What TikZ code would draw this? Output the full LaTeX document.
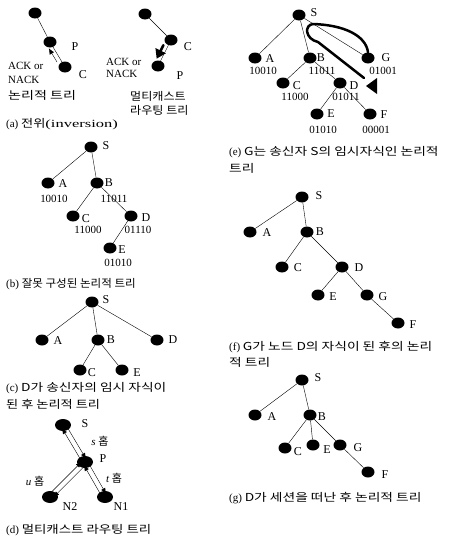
\documentclass[tikz,border=0pt]{standalone}
\usepackage{fontspec}
\setmainfont{Liberation Serif}
\newfontfamily\krfont{Noto Sans CJK KR}
\newcommand{\krw}[2]{\scalebox{#1}[1]{\krfont #2}}
\usetikzlibrary{shapes.geometric,arrows.meta,calc}
\begin{document}
\begin{tikzpicture}[x=1pt,y=-1pt,
  dot/.style={ellipse,fill=black,minimum width=13pt,minimum height=11pt,inner sep=0pt},
  bigdot/.style={dot,minimum width=16pt,minimum height=12pt},
  lbl/.style={font=\fontsize{12}{12}\selectfont,inner sep=0pt},
  addr/.style={font=\fontsize{11}{11}\selectfont,inner sep=0pt},
  capt/.style={anchor=west,font=\fontsize{11}{13}\selectfont,inner sep=0pt},
  hop/.style={-{Latex[length=6pt,width=4.5pt]},shorten >=2pt,shorten <=2pt},
  fat/.style={line width=2.5pt,line cap=round}]
\useasboundingbox (0,0) rectangle (462,542);
% (a) inversion
\node[dot] (aT) at (35,13) {};
\node[dot] (aP) at (50,42) {};
\node[dot] (aC) at (65,67) {};
\draw (aT) -- (aP) -- (aC);
\draw[-{Latex[length=6pt,width=5pt]}] ($(aC)!0.2!(aP)+(-5,0)$) -- ($(aC)!0.75!(aP)+(-5,0)$);
\node[lbl] (aPl) at (75,47) {P};
\node[lbl] (aCl) at (83,75) {C};
\node[addr,anchor=west] (aAck) at (8,66) {ACK or};
\node[addr,anchor=west] (aNack) at (8,80) {NACK};
\node[capt] (aTree) at (8,95) {\krw{1.28}{논리적 트리}};
\node[dot] (mT) at (145,14) {};
\node[dot] (mC) at (171,40) {};
\node[dot] (mP) at (158,66) {};
\draw (mT) -- (mC) -- (mP);
\draw[fat,-{Triangle[length=9pt,width=11pt]}] ($(mC)!0.2!(mP)+(-5,0)$) -- ($(mC)!0.72!(mP)+(-5,0)$);
\node[lbl] (mCl) at (188,47) {C};
\node[lbl] (mPl) at (180,76) {P};
\node[addr,anchor=west] (mAck) at (106,62) {ACK or};
\node[addr,anchor=west] (mNack) at (106,74) {NACK};
\node[capt] (mTree1) at (130,96) {\krw{1.1}{멀티캐스트}};
\node[capt] (mTree2) at (130,110) {\krw{1.1}{라우팅 트리}};
\node[capt] (capA) at (6,124) {(a) \krw{1.2}{전위}\scalebox{1.5}[1]{(inversion)}};
% (b) wrong tree
\node[dot] (bS) at (91,147) {};
\node[dot] (bA) at (48,183) {};
\node[dot] (bB) at (97,183) {};
\node[dot] (bC) at (73,216) {};
\node[dot] (bD) at (131,216) {};
\node[dot] (bE) at (110,248) {};
\draw (bS) -- (bA);
\draw (bS) -- (bB) -- (bC);
\draw (bB) -- (bD) -- (bE);
\node[lbl] (bSl) at (106,146) {S};
\node[lbl] (bAl) at (63,184) {A};
\node[lbl] (bBl) at (109,183) {B};
\node[lbl] (bCl) at (86,219) {C};
\node[lbl] (bDl) at (146,218) {D};
\node[lbl] (bEl) at (122,250) {E};
\node[addr] (bAn) at (54,199) {10010};
\node[addr] (bBn) at (114,199) {11011};
\node[addr] (bCn) at (88,230) {11000};
\node[addr] (bDn) at (138,230) {01110};
\node[addr] (bEn) at (118,263) {01010};
\node[capt] (capB) at (6,284) {(b) \krw{1.05}{잘못 구성된 논리적 트리}};
% (c) D under sender
\node[dot] (cS) at (92,302) {};
\node[dot] (cA) at (42,340) {};
\node[dot] (cB) at (98,340) {};
\node[dot] (cD) at (157,340) {};
\node[dot] (cC) at (80,370) {};
\node[dot] (cE) at (122,370) {};
\draw (cS) -- (cA);
\draw (cS) -- (cB);
\draw (cS) -- (cD);
\draw (cB) -- (cC);
\draw (cB) -- (cE);
\node[lbl] (cSl) at (106,300) {S};
\node[lbl] (cAl) at (58,341) {A};
\node[lbl] (cBl) at (111,340) {B};
\node[lbl] (cDl) at (173,340) {D};
\node[lbl] (cCl) at (92,373) {C};
\node[lbl] (cEl) at (137,373) {E};
\node[capt] (capC1) at (6,388) {(c) \krw{1.25}{D가 송신자의 임시 자식이}};
\node[capt] (capC2) at (6,404) {\krw{1.2}{된 후 논리적 트리}};
% (d) routing tree
\node[bigdot] (dS) at (63,425) {};
\node[bigdot] (dP) at (85,462) {};
\node[bigdot] (dN2) at (50,497) {};
\node[bigdot] (dN1) at (105,497) {};
\draw[hop] ($(dS)!2.5pt!90:(dP)$) -- ($(dP)!2.5pt!-90:(dS)$);
\draw[hop] ($(dP)!2.5pt!90:(dS)$) -- ($(dS)!2.5pt!-90:(dP)$);
\draw[hop] ($(dP)!2.5pt!90:(dN2)$) -- ($(dN2)!2.5pt!-90:(dP)$);
\draw[hop] ($(dN2)!2.5pt!90:(dP)$) -- ($(dP)!2.5pt!-90:(dN2)$);
\draw[hop] ($(dP)!2.5pt!90:(dN1)$) -- ($(dN1)!2.5pt!-90:(dP)$);
\draw[hop] ($(dN1)!2.5pt!90:(dP)$) -- ($(dP)!2.5pt!-90:(dN1)$);
\node[lbl] (dSl) at (85,424) {S};
\node[lbl] (dPl) at (103,459) {P};
\node[lbl] (dN2l) at (70,507) {N2};
\node[lbl] (dN1l) at (121,507) {N1};
\node[addr] (dSh) at (100,441) {\itshape s {\krfont\upshape 홉}};
\node[addr] (dUh) at (35,481) {\itshape u {\krfont\upshape 홉}};
\node[addr] (dTh) at (114,478) {\itshape t {\krfont\upshape 홉}};
\node[capt] (capD) at (6,530) {(d) \krw{1.22}{멀티캐스트 라우팅 트리}};
% (e) G as temporary child of S
\node[dot] (eS) at (299,15) {};
\node[dot] (eA) at (255,58) {};
\node[dot] (eB) at (310,58) {};
\node[dot] (eG) at (368,58) {};
\node[dot] (eC) at (283,83) {};
\node[dot] (eD) at (340,83) {};
\node[dot] (eE) at (317,114) {};
\node[dot] (eF) at (370,114) {};
\draw (eS) -- (eA);
\draw (eS) -- (eB);
\draw (eS) -- (eG);
\draw (eB) -- (eC);
\draw (eB) -- (eD);
\draw (eD) -- (eE);
\draw (eD) -- (eF);
\coordinate (eTip) at (364,78);
\draw[fat] (eG.north) .. controls (366,36) and (345,25) .. (313,24) .. controls (304,25) and (305,39) .. (318,42) -- (eTip);
\fill (366,86) -- (377,78) -- (377,94) -- cycle;
\node[lbl] (eSl) at (314,13) {S};
\node[lbl] (eAl) at (270,59) {A};
\node[lbl] (eBl) at (321,58) {B};
\node[lbl] (eGl) at (386,58) {G};
\node[lbl] (eCl) at (297,86) {C};
\node[lbl] (eDl) at (354,86) {D};
\node[addr] (eAn) at (263,71) {10010};
\node[addr] (eBn) at (322,71) {11011};
\node[addr] (eGn) at (383,71) {01001};
\node[addr] (eCn) at (295,97) {11000};
\node[addr] (eDn) at (346,97) {01011};
\node[lbl] (eEl) at (331,114) {E};
\node[lbl] (eFl) at (384,115) {F};
\node[addr] (eEn) at (323,130) {01010};
\node[addr] (eFn) at (376,130) {00001};
\node[capt] (capE1) at (229,152) {(e) \krw{1.25}{G는 송신자 S의 임시자식인 논리적}};
\node[capt] (capE2) at (229,168) {\krw{1.25}{트리}};
% (f) G as child of D
\node[dot] (fS) at (302,197) {};
\node[dot] (fA) at (250,232) {};
\node[dot] (fB) at (307,232) {};
\node[dot] (fC) at (282,267) {};
\node[dot] (fD) at (342,267) {};
\node[dot] (fE) at (318,295) {};
\node[dot] (fG) at (367,295) {};
\node[dot] (fF) at (398,323) {};
\draw (fS) -- (fA);
\draw (fS) -- (fB) -- (fC);
\draw (fB) -- (fD) -- (fE);
\draw (fD) -- (fG) -- (fF);
\node[lbl] (fSl) at (319,196) {S};
\node[lbl] (fAl) at (267,233) {A};
\node[lbl] (fBl) at (320,232) {B};
\node[lbl] (fCl) at (298,268) {C};
\node[lbl] (fDl) at (359,268) {D};
\node[lbl] (fEl) at (333,297) {E};
\node[lbl] (fGl) at (383,297) {G};
\node[lbl] (fFl) at (413,325) {F};
\node[capt] (capF1) at (229,347) {(f) \krw{1.25}{G가 노드 D의 자식이 된 후의 논리}};
\node[capt] (capF2) at (229,362) {\krw{1.25}{적 트리}};
% (g) D left the session
\node[dot] (gS) at (302,380) {};
\node[dot] (gA) at (255,415) {};
\node[dot] (gB) at (310,415) {};
\node[dot] (gC) at (285,448) {};
\node[dot] (gE) at (313,445) {};
\node[dot] (gG) at (340,445) {};
\node[dot] (gF) at (368,472) {};
\draw (gS) -- (gA);
\draw (gS) -- (gB);
\draw (gB) -- (gC);
\draw (gB) -- (gE);
\draw (gB) -- (gG) -- (gF);
\node[lbl] (gSl) at (318,378) {S};
\node[lbl] (gAl) at (272,417) {A};
\node[lbl] (gBl) at (322,417) {B};
\node[lbl] (gCl) at (298,452) {C};
\node[lbl] (gEl) at (327,450) {E};
\node[lbl] (gGl) at (358,448) {G};
\node[lbl] (gFl) at (385,475) {F};
\node[capt] (capG) at (229,498) {(g) \krw{1.25}{D가 세션을 떠난 후 논리적 트리}};
\end{tikzpicture}
\end{document}
